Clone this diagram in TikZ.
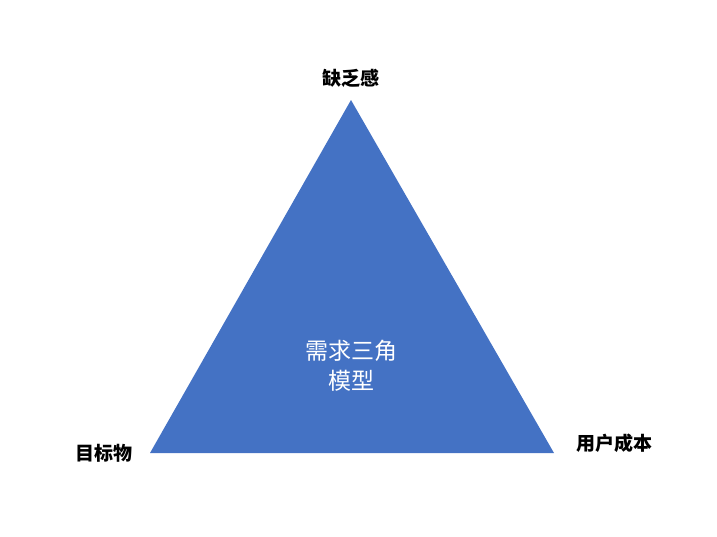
\documentclass[tikz,border=0pt]{standalone}
\usepackage{fontspec}
\newfontfamily\cjk{Noto Sans CJK SC}
\definecolor{tri}{HTML}{4472C4}
\begin{document}
\begin{tikzpicture}[x=1pt,y=-1pt,
  lab/.style={font=\cjk\fontsize{19}{22}\selectfont\bfseries,text=black},
  mid/.style={font=\cjk\fontsize{23}{30}\selectfont,text=white,align=center}]
\useasboundingbox (0,0) rectangle (717,536);
\coordinate (t) at (351,100);
\coordinate (l) at (150,453);
\coordinate (r) at (554,453);
\fill[tri] (t) -- (l) -- (r) -- cycle;
\node[lab] (nt) at (351,78) {缺乏感};
\node[lab] (nl) at (104,453) {目标物};
\node[lab] (nr) at (614,443) {用户成本};
\node[mid] (c) at (351,366) {需求三角\\模型};
\end{tikzpicture}
\end{document}
